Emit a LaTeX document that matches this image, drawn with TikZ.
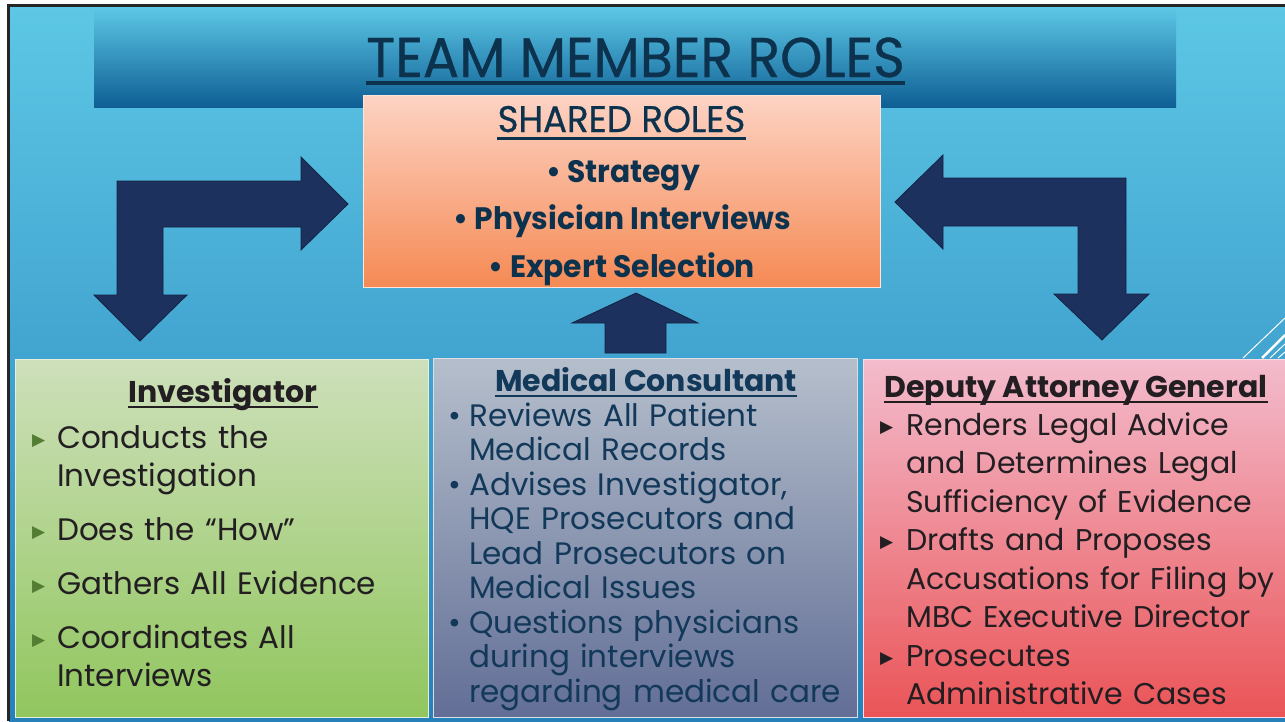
\documentclass[tikz,border=0pt]{standalone}
\usepackage{fontspec}
\setmainfont{Poppins}
\newfontfamily\twfont[FakeStretch=0.96]{Poppins}
\newfontfamily\titlefont[FakeStretch=0.96, FakeBold=0.6]{Poppins}
\newfontfamily\symfont{DejaVu Sans}
\usetikzlibrary{positioning}

\definecolor{bgtop}{RGB}{93,199,229}
\definecolor{bgbot}{RGB}{38,128,186}
\definecolor{bantop}{RGB}{92,198,229}
\definecolor{banbot}{RGB}{14,95,148}
\definecolor{arrowblue}{RGB}{28,49,94}
\definecolor{titleink}{RGB}{12,50,78}
\definecolor{peachtop}{RGB}{253,211,196}
\definecolor{peachbot}{RGB}{245,138,84}
\definecolor{greentop}{RGB}{206,224,187}
\definecolor{greenbot}{RGB}{145,198,94}
\definecolor{greenmark}{RGB}{84,125,52}
\definecolor{slatetop}{RGB}{181,191,204}
\definecolor{slatebot}{RGB}{98,110,150}
\definecolor{slateink}{RGB}{18,56,90}
\definecolor{pinktop}{RGB}{243,188,205}
\definecolor{pinkbot}{RGB}{234,84,87}
\definecolor{darkink}{RGB}{34,30,34}

\newcommand{\rolemark}[1]{{\color{#1}\symfont\fontsize{17}{17}\selectfont\raisebox{3pt}{▶}}}
\newcommand{\roleitem}[3]{\noindent\hangindent=#1\hangafter=1\makebox[#1][l]{#2}#3\par}

\begin{document}
\begin{tikzpicture}[x=1pt, y=-1pt,
  panel/.style={inner sep=0pt, line width=0.8pt},
  blockarrow/.style={fill=arrowblue, draw=arrowblue!70!black, line width=0.8pt},
  heading/.style={inner sep=0pt, anchor=base, font=\bfseries\fontsize{30}{30}\selectfont},
  rolelist/.style={inner sep=0pt, anchor=base west, text width=420pt},
  shareditem/.style={inner sep=0pt, anchor=base, text=titleink, font=\twfont\bfseries\fontsize{31}{31}\selectfont},
  headline/.style={line width=2pt}]
\useasboundingbox (0,0) rectangle (1285,721);

% background
\fill[white] (0,0) rectangle (1285,721);
\shade[top color=bgtop, bottom color=bgbot] (9,6) rectangle (1285,721);
\draw[line width=3pt, black!85] (8.5,721) -- (8.5,5) -- (1285,5);

% banner and title
\node[panel, top color=bantop, bottom color=banbot, minimum width=1082pt, minimum height=99pt] (banner) at (635,57.5) {};
\node[inner sep=0pt, anchor=base, text=titleink, font=\titlefont\fontsize{56}{56}\selectfont] (title) at (635.5,77) {TEAM MEMBER ROLES};
\draw[titleink, line width=4pt] ([yshift=-6pt]title.base west) -- ([yshift=-6pt]title.base east);

% shared roles
\node[panel, draw=peachtop!60!white, top color=peachtop, bottom color=peachbot, minimum width=517pt, minimum height=192pt] (shared) at (621.5,191) {};
\node[inner sep=0pt, anchor=base, text=titleink, font=\titlefont\fontsize{37}{37}\selectfont] (sharedhd) at (621.5,132) {SHARED ROLES};
\draw[titleink, line width=3pt] ([yshift=-6pt]sharedhd.base west) -- ([yshift=-6pt]sharedhd.base east);
\node[shareditem] (strategy) at (623,182) {\textbullet\ Strategy};
\node[shareditem] (physician) at (622,229) {\textbullet\ Physician Interviews};
\node[shareditem] (expert) at (622,277) {\textbullet\ Expert Selection};

% arrows
\draw[blockarrow] (117,295) -- (117,181) -- (301,181) -- (301,157) -- (348,204) -- (301,250) -- (301,227)
  -- (163,227) -- (163,295) -- (187,295) -- (140,341) -- (94,295) -- cycle;
\draw[blockarrow] (1126,294) -- (1126,178) -- (943,178) -- (943,155) -- (895,202) -- (943,249) -- (943,226)
  -- (1078,226) -- (1078,294) -- (1054,294) -- (1102,340) -- (1149,294) -- cycle;
\draw[blockarrow] (605,353) -- (605,323) -- (572,323) -- (636,293) -- (698,323) -- (666,323) -- (666,353) -- cycle;

% corner lines
\draw[white, line width=1pt] (1243,358) -- (1285,318);
\draw[white, line width=2.5pt] (1262,358) -- (1285,335);
\draw[white, line width=1pt] (1270,358) -- (1285,344);
\draw[white, line width=1pt] (1278,358) -- (1285,352);

% investigator
\node[panel, draw=greentop!50!white, top color=greentop, bottom color=greenbot, minimum width=413pt, minimum height=358pt] (inv) at (221.5,538) {};
\node[heading, text=darkink] (invhd) at (223,402) {Investigator};
\draw[headline, darkink] ([yshift=-5pt]invhd.base west) -- ([yshift=-5pt]invhd.base east);
\node[rolelist, text=darkink, font=\fontsize{31}{38}\selectfont] (invlist) at (32,448) {%
  \roleitem{25pt}{\rolemark{greenmark}}{Conducts the\newline Investigation}\vspace{16pt}
  \roleitem{25pt}{\rolemark{greenmark}}{Does the “How”}\vspace{16pt}
  \roleitem{25pt}{\rolemark{greenmark}}{Gathers All Evidence}\vspace{16pt}
  \roleitem{25pt}{\rolemark{greenmark}}{Coordinates All\newline Interviews}};

% medical consultant
\node[panel, draw=slatetop!50!white, top color=slatetop, bottom color=slatebot, minimum width=424pt, minimum height=359pt] (med) at (645,537.5) {};
\node[heading, text=slateink] (medhd) at (646,391) {Medical Consultant};
\draw[headline, slateink] ([yshift=-5pt]medhd.base west) -- ([yshift=-5pt]medhd.base east);
\node[rolelist, text=slateink, font=\fontsize{31}{34.5}\selectfont] (medlist) at (448,426) {%
  \roleitem{21pt}{\textbullet}{Reviews All Patient\newline Medical Records}
  \roleitem{21pt}{\textbullet}{Advises Investigator,\newline HQE Prosecutors and\newline Lead Prosecutors on\newline Medical Issues}
  \roleitem{21pt}{\textbullet}{Questions physicians\newline during interviews\newline regarding medical care}};

% deputy attorney general
\node[panel, draw=pinktop!50!white, top color=pinktop, bottom color=pinkbot, minimum width=424pt, minimum height=358pt] (dag) at (1075,538) {};
\node[heading, text=darkink] (daghd) at (1076,397) {Deputy Attorney General};
\draw[headline, darkink] ([yshift=-5pt]daghd.base west) -- ([yshift=-5pt]daghd.base east);
\node[rolelist, text=darkink, font=\fontsize{30}{38.5}\selectfont] (daglist) at (880,435) {%
  \roleitem{26pt}{\rolemark{darkink}}{Renders Legal Advice\newline and Determines Legal\newline Sufficiency of Evidence}
  \roleitem{26pt}{\rolemark{darkink}}{Drafts and Proposes\newline Accusations for Filing by\newline MBC Executive Director}
  \roleitem{26pt}{\rolemark{darkink}}{Prosecutes\newline Administrative Cases}};
\end{tikzpicture}
\end{document}
